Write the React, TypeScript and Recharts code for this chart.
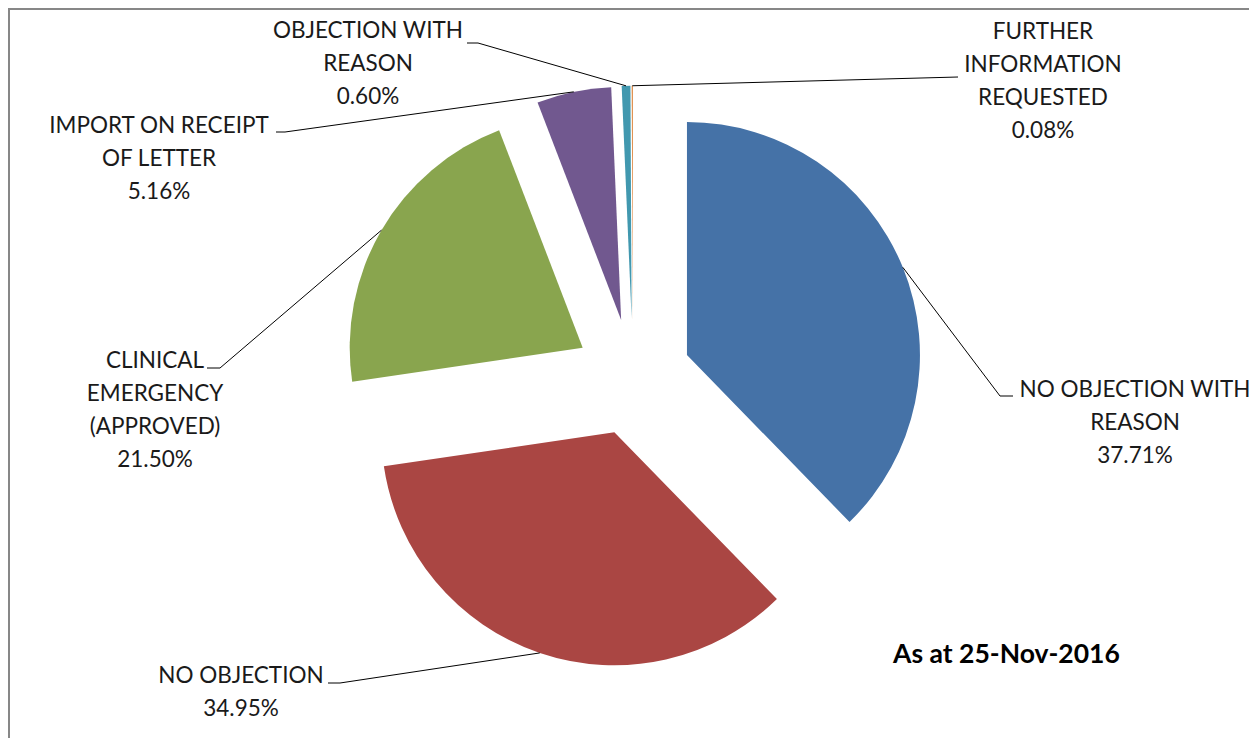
import { PieChart, Pie, Cell, Sector } from "recharts";

const CATEGORIES = [
  "NO OBJECTION WITH REASON",
  "NO OBJECTION",
  "CLINICAL EMERGENCY (APPROVED)",
  "IMPORT ON RECEIPT OF LETTER",
  "OBJECTION WITH REASON",
  "FURTHER INFORMATION REQUESTED",
];
const SHARES = [37.71, 34.95, 21.5, 5.16, 0.6, 0.08];
const COLORS = ["#4572A7", "#AA4643", "#89A54E", "#71588F", "#4198AF", "#DB843D"];
const AS_AT = "As at 25-Nov-2016";

const data = CATEGORIES.map((name, i) => ({ name, value: SHARES[i] }));

const RAD = Math.PI / 180;
const EXPLODE = 0.25; // excel "point explosion" 25%
const FONT = "Lato, 'Open Sans', sans-serif";
const LINE_H = 33;

// label placement relative to pie centre: elbow of leader, horizontal tick, text centre, first baseline, wrap width
const LABEL_LAYOUT = [
  { ex: 367, ey: 19, tick: 13, tx: 502, ty: 20, wrap: 17 },
  { ex: -293, ey: 306, tick: -12, tx: -392, ty: 306, wrap: 12 },
  { ex: -413, ey: -9, tick: -13, tx: -478, ty: -9, wrap: 10 },
  { ex: -348, ey: -245, tick: -9, tx: -474, ty: -244, wrap: 17 },
  { ex: -155, ey: -334, tick: -11, tx: -265, ty: -339, wrap: 14 },
  { ex: 325, ey: -300, tick: 0, tx: 410, ty: -338, wrap: 11 },
];

function wrapText(text: string, max: number): string[] {
  const out: string[] = [];
  let cur = "";
  for (const w of text.split(" ")) {
    if (cur && (cur + " " + w).length > max) {
      out.push(cur);
      cur = w;
    } else {
      cur = cur ? cur + " " + w : w;
    }
  }
  if (cur) out.push(cur);
  return out;
}

function explodeDist(outerRadius: number) {
  return outerRadius * EXPLODE;
}

function ExplodedSector(props: any) {
  const d = explodeDist(props.outerRadius);
  const dx = d * Math.cos(-props.midAngle * RAD);
  const dy = d * Math.sin(-props.midAngle * RAD);
  return <Sector {...props} cx={props.cx + dx} cy={props.cy + dy} stroke="none" />;
}

function renderLabel(props: any) {
  const { cx, cy, midAngle, outerRadius, index } = props;
  const lay = LABEL_LAYOUT[index];
  if (!lay) return null;
  const r = outerRadius + explodeDist(outerRadius);
  const ax = cx + r * Math.cos(-midAngle * RAD);
  const ay = cy + r * Math.sin(-midAngle * RAD);
  const bx = cx + lay.ex;
  const by = cy + lay.ey;
  const lines = [...wrapText(data[index].name, lay.wrap), `${data[index].value.toFixed(2)}%`];
  return (
    <g>
      <path
        d={`M${ax},${ay}L${bx},${by}L${bx + lay.tick},${by}`}
        stroke="#000"
        strokeWidth={1}
        fill="none"
      />
      <text x={cx + lay.tx} y={cy + lay.ty} textAnchor="middle" fontFamily={FONT} fontSize={22.5} fill="#1a1a1a">
        {lines.map((ln, i) => (
          <tspan key={i} x={cx + lay.tx} dy={i === 0 ? 0 : LINE_H}>
            {ln}
          </tspan>
        ))}
      </text>
    </g>
  );
}

export default function App() {
  return (
    <div
      style={{
        width: 1249,
        height: 740,
        boxSizing: "border-box",
        border: "2px solid #878787",
        background: "#fff",
        overflow: "hidden",
      }}
    >
      <PieChart width={1245} height={736}>
        <Pie
          data={data}
          dataKey="value"
          nameKey="name"
          cx={618}
          cy={362}
          outerRadius={233}
          startAngle={90}
          endAngle={-270}
          shape={ExplodedSector}
          label={renderLabel}
          labelLine={false}
          isAnimationActive={false}
        >
          {data.map((d, i) => (
            <Cell key={d.name} fill={COLORS[i]} stroke="none" />
          ))}
        </Pie>
        <text x={883} y={653} fontFamily={FONT} fontSize={26.5} fontWeight="bold" fill="#000">
          {AS_AT}
        </text>
      </PieChart>
    </div>
  );
}
